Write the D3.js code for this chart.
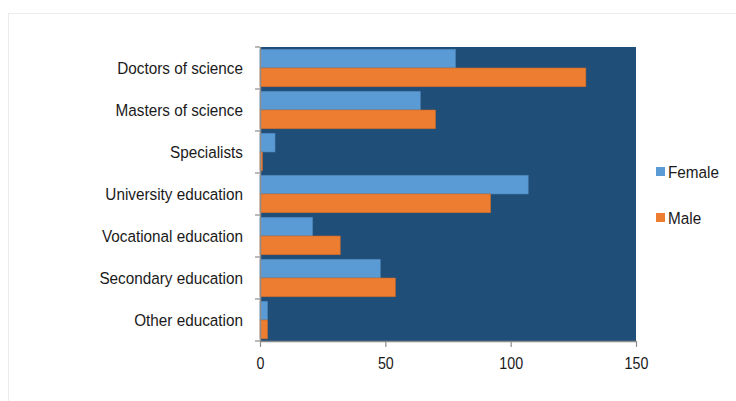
<!DOCTYPE html>
<html>
<head>
<meta charset="utf-8">
<script src="https://cdn.jsdelivr.net/npm/d3@7"></script>
<style>
  html, body { margin: 0; padding: 0; background: #fff; }
  svg { display: block; font-family: "Liberation Sans", Arial, sans-serif; }
</style>
</head>
<body>
<svg id="chart" width="736" height="401"></svg>
<script>
// Education levels, top to bottom
const categories = [
  "Doctors of science",
  "Masters of science",
  "Specialists",
  "University education",
  "Vocational education",
  "Secondary education",
  "Other education"
];
const female = [78, 64, 6, 107, 21, 48, 3];
const male = [130, 70, 1, 92, 32, 54, 3];
const seriesNames = ["Female", "Male"];
const seriesColors = ["#5B9BD5", "#ED7D31"];
const xTicks = [0, 50, 100, 150];

const svg = d3.select("#chart");
const margin = { left: 260, top: 47 };
const plotW = 636 - margin.left;
const plotH = 341 - margin.top;
// condensed lettering: regular face squeezed horizontally
const squeeze = 0.9;

// light outer frame
svg.append("rect")
  .attr("x", 8.5).attr("y", 13.5)
  .attr("width", 760).attr("height", 420)
  .attr("fill", "#fff")
  .attr("stroke", "#ececec");

const x = d3.scaleLinear().domain([0, 150]).range([0, plotW]);
const y = d3.scaleBand().domain(categories).range([0, plotH]).paddingInner(0).paddingOuter(0);
const inner = d3.scaleBand().domain(seriesNames).range([0, y.bandwidth()]).paddingOuter(0.12).paddingInner(0);

const g = svg.append("g").attr("transform", `translate(${margin.left},${margin.top})`);

// plot background
g.append("rect")
  .attr("x", 0).attr("y", 0)
  .attr("width", plotW).attr("height", plotH)
  .attr("fill", "#1F4E79");

const rows = categories.map((c, i) => ({ cat: c, vals: [female[i], male[i]] }));

const groups = g.selectAll("g.cat")
  .data(rows).join("g")
  .attr("class", "cat")
  .attr("transform", d => `translate(0,${y(d.cat)})`);

groups.selectAll("rect")
  .data(d => d.vals.map((v, k) => ({ name: seriesNames[k], v, k })))
  .join("rect")
  .attr("x", 0)
  .attr("y", d => inner(d.name))
  .attr("width", d => x(d.v))
  .attr("height", inner.bandwidth())
  .attr("fill", d => seriesColors[d.k])
  .attr("stroke", d => d3.color(seriesColors[d.k]).darker(0.5))
  .attr("stroke-width", 0.6);

// left axis: ticks at band boundaries
const axisColor = "#8c8c8c";
const bounds = d3.range(categories.length + 1).map(i => i * y.step());
g.append("line")
  .attr("x1", 0.5).attr("x2", 0.5)
  .attr("y1", 0).attr("y2", plotH)
  .attr("stroke", axisColor).attr("stroke-width", 1.5);
g.selectAll("line.ytick").data(bounds).join("line")
  .attr("class", "ytick")
  .attr("x1", -5).attr("x2", 0)
  .attr("y1", d => d).attr("y2", d => d)
  .attr("stroke", axisColor).attr("stroke-width", 1.2);

g.selectAll("text.ylab").data(categories).join("text")
  .attr("class", "ylab")
  .attr("transform", d => `translate(-17,${y(d) + y.bandwidth() / 2}) scale(${squeeze},1)`)
  .attr("dy", "0.35em")
  .attr("text-anchor", "end")
  .attr("font-size", 17)
  .attr("fill", "#1a1a1a")
  .text(d => d);

// bottom axis
const xAxis = d3.axisBottom(x).tickValues(xTicks).tickSize(6).tickSizeOuter(0).tickPadding(0);
const xg = g.append("g").attr("transform", `translate(0,${plotH})`).call(xAxis);
xg.select(".domain").attr("stroke", axisColor).attr("stroke-width", 1.5);
xg.selectAll(".tick line").attr("stroke", axisColor).attr("stroke-width", 1.2);
xg.selectAll(".tick text")
  .attr("y", null)
  .attr("transform", "translate(0,16) scale(0.84,1)")
  .attr("font-size", 17)
  .attr("font-family", "\"Liberation Sans\", Arial, sans-serif")
  .attr("fill", "#1a1a1a");

// legend
const legend = svg.append("g").attr("transform", "translate(656,0)");
const legendY = [172, 218];
seriesNames.forEach((name, i) => {
  legend.append("rect")
    .attr("x", 0).attr("y", legendY[i] - 5)
    .attr("width", 9).attr("height", 9)
    .attr("fill", seriesColors[i]);
  legend.append("text")
    .attr("transform", `translate(12,${legendY[i]}) scale(${squeeze},1)`)
    .attr("dy", "0.35em")
    .attr("font-size", 17)
    .attr("fill", "#1a1a1a")
    .text(name);
});
</script>
</body>
</html>
